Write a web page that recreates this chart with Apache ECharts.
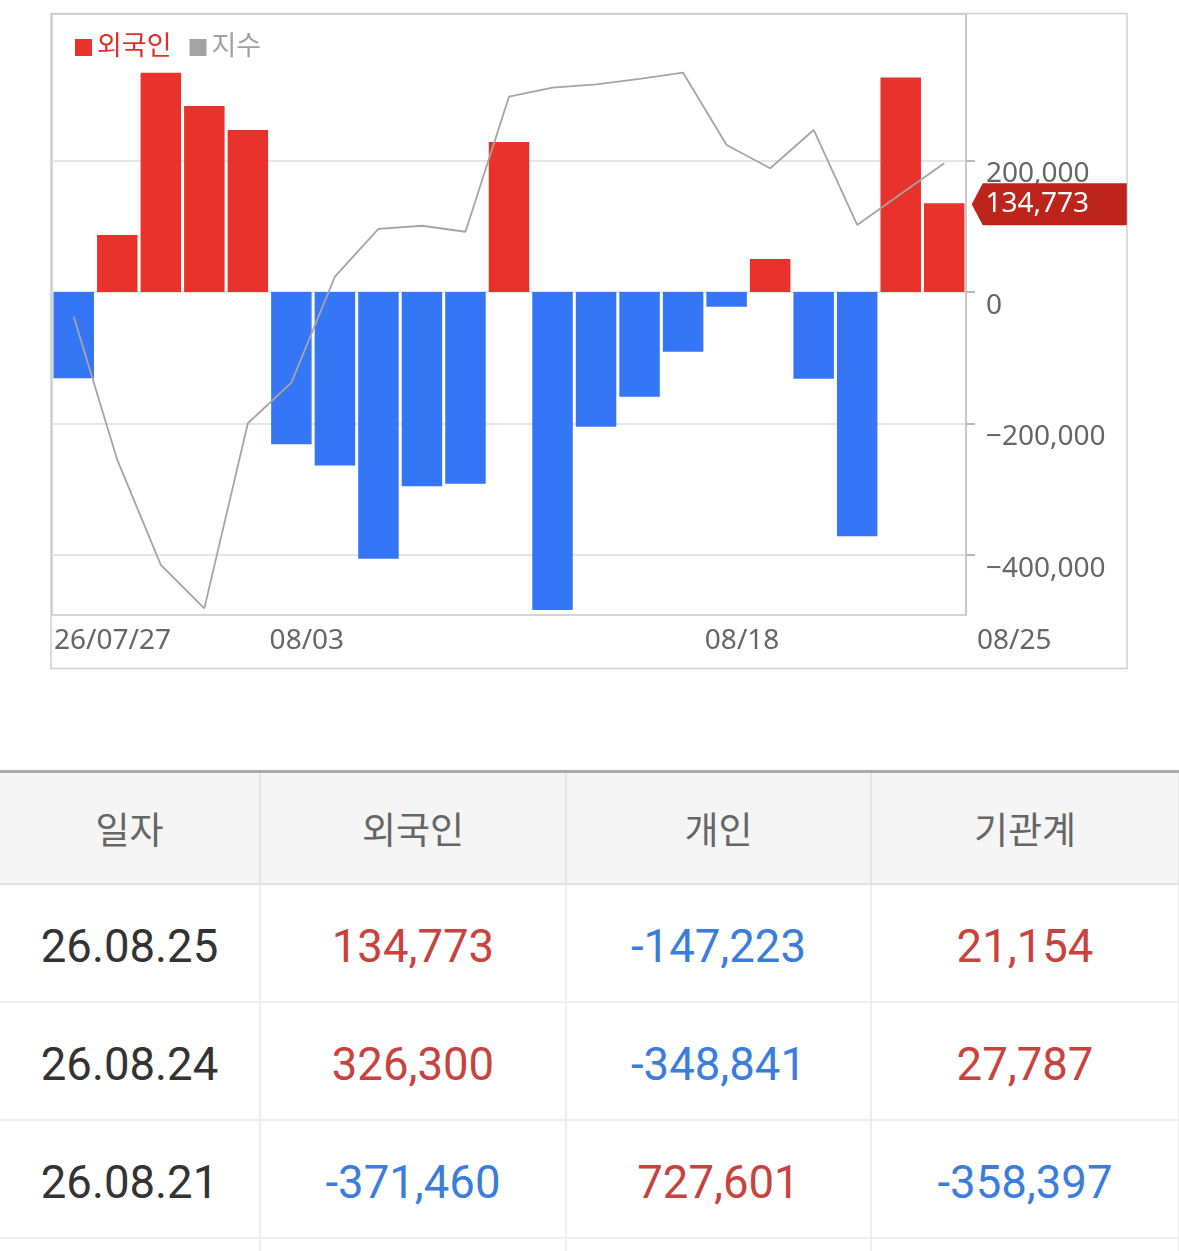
<!DOCTYPE html>
<html>
<head>
    <meta charset="utf-8" />
    <title>외국인 매매동향</title>
    <script src="https://cdn.jsdelivr.net/npm/echarts@6.0.0/dist/echarts.min.js"></script>
    <style>
        * {
            margin: 0;
            padding: 0;
            box-sizing: border-box
        }

        body {
            background: #fff;
            width: 1179px;
            overflow: hidden;
            font-family: Roboto, 'Noto Sans CJK KR', sans-serif
        }

        #chart {
            width: 1179px;
            height: 700px
        }

        table {
            margin-top: 70px;
            width: 1179px;
            border-collapse: collapse;
            table-layout: fixed;
            border-top: 3px solid #aaa
        }

        th {
            height: 112px;
            background: #f5f5f5;
            color: #666;
            font-weight: 400;
            font-size: 37px;
            font-family: 'Noto Sans CJK KR', sans-serif;
            border-bottom: 2px solid #e2e2e2;
            border-right: 2px solid #e6e6e6
        }

        td {
            height: 118px;
            padding-top: 8px;
            text-align: center;
            font-size: 45.5px;
            color: #333;
            border-bottom: 2px solid #eee;
            border-right: 2px solid #eee
        }

        .first {
            position: relative;
            z-index: 1;
            box-shadow: 7px 0 8px -5px rgba(0,0,0,0.13)
        }

        .up { color: #c8423e }
        .down { color: #3b7ddd }
    </style>
</head>
<body>
    <div id="chart"></div>
    <table>
        <colgroup>
            <col style="width:260px">
            <col style="width:306px">
            <col style="width:305px">
            <col style="width:308px">
        </colgroup>
        <thead>
            <tr>
                <th class="first">일자</th>
                <th>외국인</th>
                <th>개인</th>
                <th>기관계</th>
            </tr>
        </thead>
        <tbody id="rows"></tbody>
    </table>

    <script>
        // trading days, 2026-07-27 .. 2026-08-25
        const dates = ['07/27', '07/28', '07/29', '07/30', '07/31',
            '08/03', '08/04', '08/05', '08/06', '08/07',
            '08/10', '08/11', '08/12', '08/13', '08/14',
            '08/18', '08/19', '08/20', '08/21', '08/24', '08/25'];
        // 외국인 순매수
        const foreignNet = [-131300, 86700, 333600, 282900, 246400,
            -231700, -264100, -405600, -295600, -291500,
            228200, -483700, -204900, -159200, -90800,
            -22300, 50200, -131800, -371460, 326300, 134773];
        // 지수 (hidden axis)
        const indexValues = [2548.9, 2477.4, 2425.0, 2403.3, 2495.7,
            2516.0, 2568.9, 2592.7, 2594.3, 2591.3,
            2658.7, 2663.2, 2664.9, 2667.6, 2670.7,
            2634.6, 2623.0, 2642.1, 2594.7, 2610.2, 2625.5];

        const xTickPos = [0, 5, 15, 21];
        const xTickLabels = ['26/07/27', '08/03', '08/18', '08/25'];
        const yTicks = [-400000, -200000, 0, 200000];

        const tableDates = ['26.08.25', '26.08.24', '26.08.21'];
        const tableForeign = [134773, 326300, -371460];
        const tableIndividual = [-147223, -348841, 727601];
        const tableInstitution = [21154, 27787, -358397];

        const RED = '#e8322b';
        const BLUE = '#3476f5';
        const FONT = "'Noto Sans', 'Noto Sans CJK KR', sans-serif";

        function fmt(v) {
            return v.toLocaleString('en-US');
        }

        // table
        const tbody = document.getElementById('rows');
        let html = '';
        tableDates.forEach(function (d, i) {
            const cell = function (v) {
                return '<td class="' + (v < 0 ? 'down' : 'up') + '">' + fmt(v) + '</td>';
            };
            html += '<tr><td class="first">' + d + '</td>' +
                cell(tableForeign[i]) + cell(tableIndividual[i]) + cell(tableInstitution[i]) + '</tr>';
        });
        html += '<tr><td class="first"></td><td></td><td></td><td></td></tr>';
        tbody.innerHTML = html;

        // chart
        const chart = echarts.init(document.getElementById('chart'));
        const last = foreignNet.length - 1;

        const option = {
            animation: false,
            textStyle: { fontFamily: FONT },
            graphic: [{
                type: 'rect',
                shape: { x: 51, y: 13.5, width: 1076, height: 655 },
                style: { fill: 'transparent', stroke: '#cfcfcf', lineWidth: 1.5 },
                silent: true
            }],
            legend: {
                left: 70,
                top: 29,
                icon: 'rect',
                itemWidth: 17,
                itemHeight: 17,
                itemGap: 18,
                textStyle: { fontSize: 27, fontFamily: FONT },
                data: [
                    { name: '외국인', itemStyle: { color: RED }, textStyle: { color: '#e0302a' } },
                    { name: '지수', itemStyle: { color: '#a3a3a3' }, textStyle: { color: '#a0a0a0' } }
                ]
            },
            grid: {
                left: 52,
                right: 213,
                top: 14,
                bottom: 85,
                show: true,
                borderColor: '#c6c6c6',
                borderWidth: 1.5
            },
            xAxis: [
                {
                    type: 'category',
                    data: dates,
                    show: false
                },
                {
                    type: 'value',
                    position: 'bottom',
                    min: 0,
                    max: 21,
                    axisLine: { show: false, onZero: false },
                    axisTick: { show: false },
                    splitLine: { show: false },
                    axisLabel: {
                        customValues: xTickPos,
                        align: 'left',
                        margin: 12,
                        fontSize: 28,
                        color: '#666',
                        formatter: function (v) {
                            const i = xTickPos.indexOf(v);
                            if (i === 0) return '{s|' + xTickLabels[i] + '}';
                            if (i === xTickPos.length - 1) return '{e|' + xTickLabels[i] + '}';
                            return i >= 0 ? xTickLabels[i] : '';
                        },
                        rich: {
                            s: { fontSize: 28, color: '#666', padding: [0, 0, 0, 2] },
                            e: { fontSize: 28, color: '#666', padding: [0, 0, 0, 11] }
                        }
                    }
                }
            ],
            yAxis: [
                {
                    type: 'value',
                    position: 'right',
                    min: -491300,
                    max: 422800,
                    axisLine: { show: true, onZero: false, lineStyle: { color: '#c4c4c4', width: 1.5 } },
                    axisTick: { show: true, length: 9, customValues: yTicks, lineStyle: { color: '#b8b8b8', width: 2 } },
                    axisLabel: {
                        customValues: yTicks,
                        margin: 20,
                        verticalAlign: 'top',
                        color: '#666',
                        fontSize: 28,
                        formatter: function (v) {
                            return v < 0 ? '\u2212' + fmt(Math.abs(v)) : fmt(v);
                        }
                    },
                    splitLine: { show: true, lineStyle: { color: '#e6e6e6', width: 2 } }
                },
                {
                    type: 'value',
                    min: 2400,
                    max: 2700,
                    show: false
                }
            ],
            series: [
                {
                    name: '외국인',
                    type: 'bar',
                    xAxisIndex: 0,
                    yAxisIndex: 0,
                    data: foreignNet,
                    barWidth: '93%',
                    itemStyle: {
                        color: function (p) { return p.value < 0 ? BLUE : RED; }
                    },
                    markPoint: {
                        symbol: 'path://M0,21L11,0L155,0L155,42L11,42Z',
                        symbolSize: [155, 42],
                        symbolKeepAspect: false,
                        symbolOffset: [105, 1],
                        itemStyle: { color: '#bd251c' },
                        label: {
                            show: true,
                            position: 'inside',
                            offset: [-12, 0],
                            color: '#fff',
                            fontSize: 28,
                            fontFamily: FONT,
                            formatter: function (p) { return fmt(p.value); }
                        },
                        data: [{ coord: [dates[last], foreignNet[last]], value: foreignNet[last] }]
                    }
                },
                {
                    name: '지수',
                    type: 'line',
                    xAxisIndex: 0,
                    yAxisIndex: 1,
                    data: indexValues,
                    symbol: 'none',
                    z: 3,
                    lineStyle: { color: '#a5a5a5', width: 1.8 },
                    itemStyle: { color: '#a5a5a5' }
                }
            ]
        };

        chart.setOption(option);
    </script>
</body>
</html>
